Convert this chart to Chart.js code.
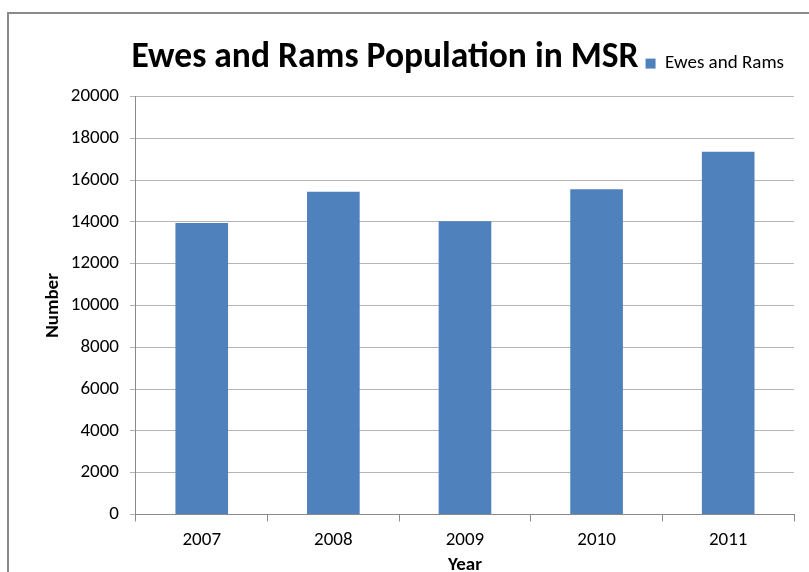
<!DOCTYPE html>
<html>
<head>
<meta charset="utf-8">
<script src="https://cdn.jsdelivr.net/npm/chart.js@4/dist/chart.umd.min.js"></script>
<style>
  html, body { margin: 0; padding: 0; background: #fff; overflow: hidden; }
  #wrap { position: relative; width: 809px; height: 572px; }
  #frame { position: absolute; left: 7px; top: 12px; width: 900px; height: 700px;
           border: 2px solid #8a8a8a; pointer-events: none; }
</style>
</head>
<body>
<div id="wrap">
  <canvas id="grafico" width="809" height="572"></canvas>
  <div id="frame"></div>
</div>
<script>
const anos = ["2007", "2008", "2009", "2010", "2011"];
const ovelhas = [13950, 15440, 14030, 15565, 17360];
const nomeSerie = "Ewes and Rams";
const titulo = "Ewes and Rams Population in MSR";

const fonte = "Carlito, 'Liberation Sans Narrow', 'DejaVu Sans Condensed', sans-serif";
Chart.defaults.font.family = fonte;
Chart.defaults.color = "#000";

// move the title left so it sits beside the legend, like the original
const tituloAoLado = {
  id: "tituloAoLado",
  afterLayout(chart) {
    const t = chart.titleBlock;
    t.left = 0;
    t.right = 770;
    t.width = 770;
  },
};

const ctx = document.getElementById("grafico").getContext("2d");

new Chart(ctx, {
  type: "bar",
  data: {
    labels: anos,
    datasets: [
      {
        label: nomeSerie,
        data: ovelhas,
        backgroundColor: "#4F81BD",
        borderWidth: 0,
        categoryPercentage: 1,
        barPercentage: 0.4,
      },
    ],
  },
  plugins: [tituloAoLado],
  options: {
    responsive: false,
    animation: false,
    layout: { padding: { left: 42, right: 15, top: 0, bottom: -9 } },
    plugins: {
      title: {
        display: true,
        text: titulo,
        font: { size: 35.5, weight: "bold" },
        padding: { top: 37, bottom: -35.5 },
      },
      // empty subtitle used only as a gap between legend and plot
      subtitle: {
        display: true,
        text: "",
        weight: 500,
        font: { size: 2 },
        padding: { top: 11, bottom: 0 },
      },
      legend: {
        position: "top",
        align: "end",
        labels: {
          boxWidth: 10,
          boxHeight: 10,
          padding: 10,
          font: { size: 19 },
          color: "#000",
        },
      },
      tooltip: { enabled: false },
    },
    scales: {
      x: {
        grid: {
          drawOnChartArea: false,
          tickLength: 7,
          color: "#8a8a8a",
        },
        border: { color: "#8a8a8a" },
        ticks: { font: { size: 19 }, padding: 7 },
        title: {
          display: true,
          text: "Year",
          font: { size: 19, weight: "bold" },
          padding: { top: -4, bottom: 4 },
        },
      },
      y: {
        min: 0,
        max: 20000,
        ticks: {
          stepSize: 2000,
          font: { size: 19 },
          padding: 11,
          callback: (v) => String(v),
        },
        grid: { color: "#b5b5b5", tickLength: 6 },
        border: { color: "#8a8a8a" },
        title: {
          display: true,
          text: "Number",
          font: { size: 19, weight: "bold" },
          padding: { top: 0, bottom: -5 },
        },
      },
    },
  },
});
</script>
</body>
</html>
